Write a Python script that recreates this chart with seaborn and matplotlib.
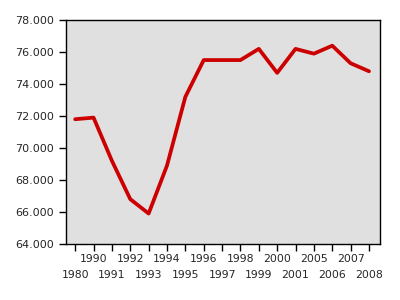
import matplotlib
matplotlib.use("Agg")
import matplotlib.pyplot as plt
import seaborn as sns
import pandas as pd
import numpy as np

years = ["1980", "1990", "1991", "1992", "1993", "1994", "1995", "1996", "1997",
         "1998", "1999", "2000", "2001", "2005", "2006", "2007", "2008"]
values = [71.8, 71.9, 69.2, 66.8, 65.9, 68.9, 73.2, 75.5, 75.5,
          75.5, 76.2, 74.7, 76.2, 75.9, 76.4, 75.3, 74.8]

df = pd.DataFrame({"idx": np.arange(len(years)), "value": values})

sns.set_style("ticks")
plt.rcParams['font.family'] = ['DejaVu Sans']

fig = plt.figure(figsize=(4, 3), dpi=100)
ax = fig.add_axes([0.165, 0.187, 0.785, 0.746])
ax.set_facecolor("#e0e0e0")

sns.lineplot(data=df, x="idx", y="value", ax=ax, color="#cc0000", linewidth=2.7)

ax.set_xlim(-0.5, len(years) - 1 + 0.6)
ax.set_ylim(64, 78)
yt = np.arange(64, 79, 2)
ax.set_yticks(yt)
ax.set_yticklabels([f"{v:.3f}" for v in yt], fontsize=8)
ax.set_xticks(np.arange(len(years)))
ax.set_xticklabels(years, fontsize=7.8)
ax.tick_params(axis="both", direction="out", length=5, width=1, color="black")
for i, tick in enumerate(ax.xaxis.get_major_ticks()):
    tick.set_pad(13.5 if i % 2 == 0 else 2.5)
for s in ax.spines.values():
    s.set_visible(True)
    s.set_color("black")
    s.set_linewidth(1)
ax.set_xlabel("")
ax.set_ylabel("")

fig.savefig("out.png", dpi=100)
